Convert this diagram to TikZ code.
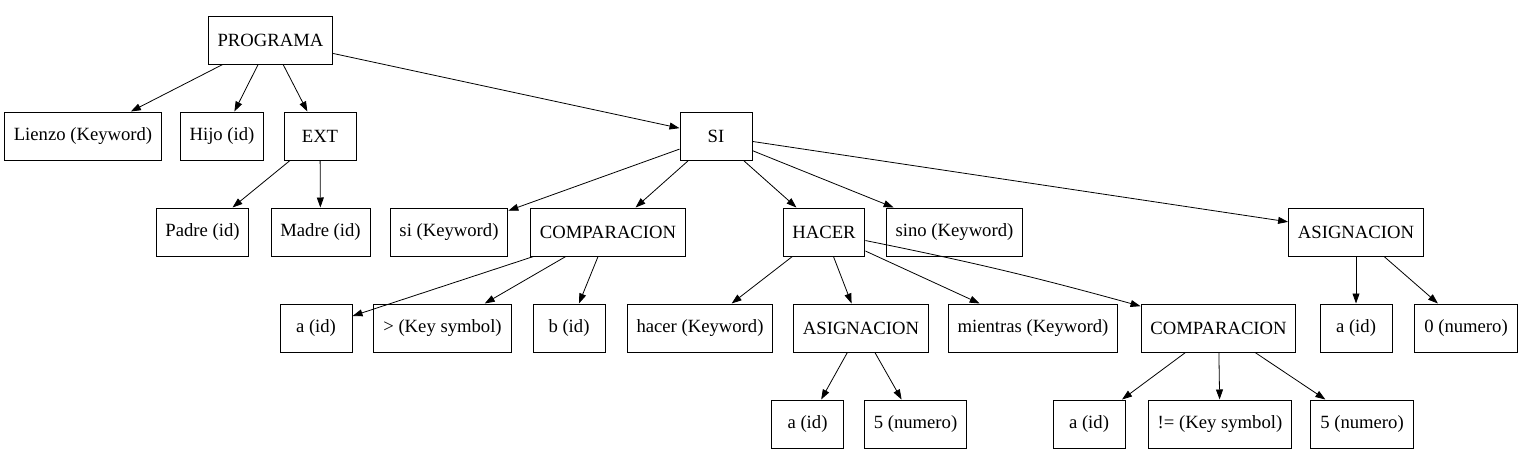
\documentclass[tikz,border=0pt]{standalone}
\usepackage{fontspec}
\setmainfont{Liberation Serif}
\usetikzlibrary{arrows.meta}
\tikzset{
  box/.style={draw, line width=0.75pt, rectangle, inner xsep=7pt, inner ysep=0pt,
    minimum height=36pt, minimum width=54pt, font=\fontsize{14}{16}\selectfont},
  edge/.style={line width=0.6pt, -{Triangle[length=7.5pt,width=5.2pt]}}
}
\begin{document}
\begin{tikzpicture}[x=0.75pt,y=-0.75pt]
\useasboundingbox (0,0) rectangle (1520,465);
% row 1
\node[box] (prog) at (270.5,40) {PROGRAMA};
% row 2
\node[box] (lienzo) at (83,136) {Lienzo (Keyword)};
\node[box] (hijo) at (222,136) {Hijo (id)};
\node[box] (ext) at (320,136) {EXT};
\node[box] (si) at (716,136) {SI};
% row 3
\node[box] (padre) at (202.5,232) {Padre (id)};
\node[box] (madre) at (320.5,232) {Madre (id)};
\node[box] (sikw) at (449,232) {si (Keyword)};
\node[box] (comp1) at (608,232) {COMPARACION};
\node[box] (hacer) at (824,232) {HACER};
\node[box] (sino) at (954.5,232) {sino (Keyword)};
\node[box] (asig1) at (1356,232) {ASIGNACION};
% row 4
\node[box] (a1) at (316,328) {a (id)};
\node[box] (gt) at (442.5,328) {> (Key symbol)};
\node[box] (b1) at (569,328) {b (id)};
\node[box] (hacerkw) at (700,328) {hacer (Keyword)};
\node[box] (asig2) at (861,328) {ASIGNACION};
\node[box] (mientras) at (1033,328) {mientras (Keyword)};
\node[box] (comp2) at (1218.5,328) {COMPARACION};
\node[box] (a4) at (1356,328) {a (id)};
\node[box] (cero) at (1466,328) {0 (numero)};
% row 5
\node[box] (a2) at (807.5,424) {a (id)};
\node[box] (cinco1) at (915.5,424) {5 (numero)};
\node[box] (a3) at (1089,424) {a (id)};
\node[box] (neq) at (1220,424) {!= (Key symbol)};
\node[box] (cinco2) at (1362,424) {5 (numero)};
% edges
\draw[edge] (prog) -- (lienzo);
\draw[edge] (prog) -- (hijo);
\draw[edge] (prog) -- (ext);
\draw[edge] (prog) -- (si);
\draw[edge] (ext) -- (padre);
\draw[edge] (ext) -- (madre);
\draw[edge] (si) -- (sikw);
\draw[edge] (si) -- (comp1);
\draw[edge] (si) -- (hacer);
\draw[edge] (si) -- (sino);
\draw[edge] (si) -- (asig1);
\draw[edge] (comp1) -- (a1);
\draw[edge] (comp1) -- (gt);
\draw[edge] (comp1) -- (b1);
\draw[edge] (hacer) -- (hacerkw);
\draw[edge] (hacer) -- (asig2);
\draw[edge] (hacer) -- (mientras);
\draw[edge] (hacer) to[bend left=2] (comp2);
\draw[edge] (asig2) -- (a2);
\draw[edge] (asig2) -- (cinco1);
\draw[edge] (comp2) -- (a3);
\draw[edge] (comp2) -- (neq);
\draw[edge] (comp2) -- (cinco2);
\draw[edge] (asig1) -- (a4);
\draw[edge] (asig1) -- (cero);
\end{tikzpicture}
\end{document}
